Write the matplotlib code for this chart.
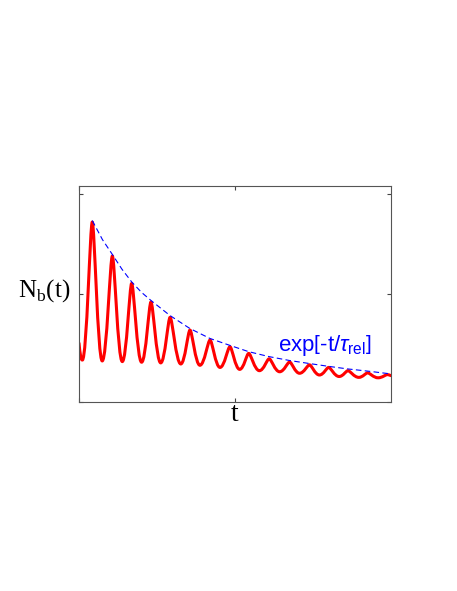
import matplotlib
matplotlib.use('Agg')
import matplotlib.pyplot as plt
from matplotlib.path import Path
from matplotlib.patches import PathPatch

# maxima / minima of N_b(t) (t in periods, N normalised)
peak_t = [0.68, 1.71, 2.70, 3.69, 4.67, 5.69, 6.72, 7.74, 8.70, 9.75, 10.80, 11.82, 12.80, 13.79, 14.80, 15.82]
peak_n = [0.833, 0.676, 0.549, 0.463, 0.392, 0.333, 0.287, 0.256, 0.225, 0.200, 0.185, 0.172, 0.160, 0.145, 0.135, 0.127]
trough_t = [0.17, 1.19, 2.22, 3.21, 4.19, 5.22, 6.20, 7.23, 8.24, 9.25, 10.29, 11.31, 12.33, 13.34, 14.35, 15.34]
trough_n = [0.194, 0.190, 0.187, 0.184, 0.181, 0.176, 0.170, 0.160, 0.151, 0.145, 0.140, 0.133, 0.125, 0.118, 0.114, 0.112]
start_t, start_n = 0.0, 0.272
end_t, end_n = 16.0, 0.122

# dashed envelope exp[-t/tau_rel]
env_t = [0.68, 1.2, 1.71, 2.2, 2.70, 3.2, 3.69, 4.67, 5.69, 6.72, 7.74, 8.70, 9.75, 10.80, 11.82, 12.80, 13.79, 14.80, 16.0]
env_n = [0.840, 0.752, 0.683, 0.615, 0.556, 0.508, 0.470, 0.400, 0.340, 0.294, 0.262, 0.233, 0.210, 0.192, 0.178, 0.165, 0.153, 0.143, 0.130]

plt.rcParams['mathtext.fontset'] = 'custom'
plt.rcParams['mathtext.rm'] = 'Liberation Sans'
plt.rcParams['mathtext.it'] = 'Liberation Sans:italic'

fig = plt.figure(figsize=(4.57, 5.91), dpi=100)
ax = fig.add_axes([0.1729, 0.3198, 0.6827, 0.3655])

# smooth red curve: cubic segments between the read extrema
pts = [(start_t, start_n)]
kind = ['start']
for k in range(len(peak_t)):
    pts.append((trough_t[k], trough_n[k])); kind.append('trough')
    pts.append((peak_t[k], peak_n[k])); kind.append('peak')
pts.append((end_t, end_n)); kind.append('end')

hand = {'trough': 0.45, 'peak': 0.22}
verts = [pts[0]]
codes = [Path.MOVETO]
for i in range(len(pts) - 1):
    (ta, ya), (tb, yb) = pts[i], pts[i + 1]
    dt = tb - ta
    if kind[i] in hand:
        c1 = (ta + hand[kind[i]] * dt, ya)
    else:
        c1 = (ta + 0.3 * dt, ya + 0.6 * (yb - ya))
    if kind[i + 1] in hand:
        c2 = (tb - hand[kind[i + 1]] * dt, yb)
    else:
        c2 = (tb - 0.3 * dt, yb + 0.3 * (ya - yb))
    verts += [c1, c2, (tb, yb)]
    codes += [Path.CURVE4] * 3

ax.add_patch(PathPatch(Path(verts, codes), facecolor='none', edgecolor='#ff0000',
                       lw=2.2, capstyle='round', joinstyle='round'))
ax.plot(env_t, env_n, color='#0000ff', lw=0.8, ls=(0, (5, 3)))

ax.set_xlim(0, 16)
ax.set_ylim(0, 1)
ax.set_xticks([0, 8])
ax.set_yticks([0, 0.5, 0.963])
ax.tick_params(direction='in', top=True, right=True, length=3, width=0.8,
               color='#444444', labelbottom=False, labelleft=False)
for s in ax.spines.values():
    s.set_color('#555555')
    s.set_linewidth(0.8)

ax.text(0.5, 0.0, 't', transform=ax.transAxes, ha='center', va='top',
        family='Liberation Serif', fontsize=20)
ax.text(-0.028, 0.515, r'N$_\mathregular{b}$(t)', transform=ax.transAxes, ha='right',
        va='center', family='Liberation Serif', fontsize=18)
ax.text(10.2, 0.234, r'$\mathrm{exp}\left[\text{-t/}\tau_\mathrm{rel}\right]$',
        color='#0000ff', family='Liberation Sans', fontsize=16, ha='left', va='baseline')

fig.savefig('out.png', dpi=100)
